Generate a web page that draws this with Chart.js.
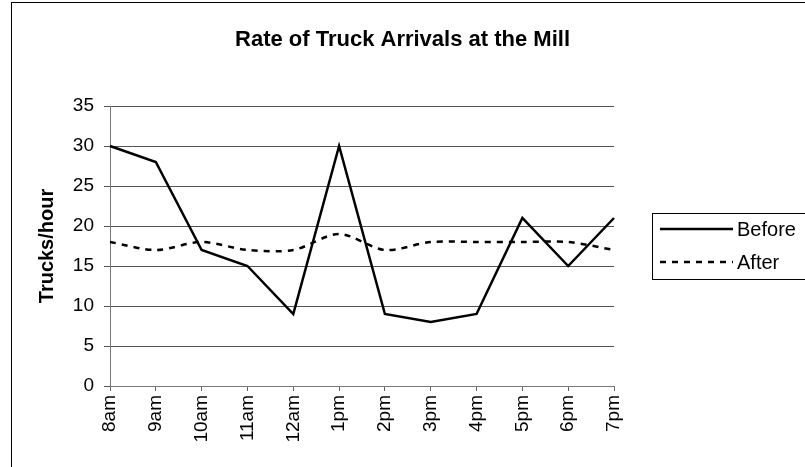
<!DOCTYPE html>
<html>
<head>
<meta charset="utf-8">
<script src="https://cdn.jsdelivr.net/npm/chart.js@4"></script>
<style>
  html, body { margin: 0; padding: 0; background: #fff; overflow: hidden; }
  #wrap { position: relative; width: 805px; height: 467px; }
  #frame { position: absolute; left: 11px; top: 2px; width: 900px; height: 600px; border: 1px solid #000; }
  #chart { position: absolute; left: 0; top: 0; }
</style>
</head>
<body>
<div id="wrap">
  <div id="frame"></div>
  <canvas id="chart" width="805" height="467"></canvas>
</div>
<script>
const hours = ["8am", "9am", "10am", "11am", "12am", "1pm", "2pm", "3pm", "4pm", "5pm", "6pm", "7pm"];
const before = [30, 28, 17, 15, 9, 30, 9, 8, 9, 21, 15, 21];
const after = [18, 17, 18, 17, 17, 19, 17, 18, 18, 18, 18, 17];
const yTicks = [0, 5, 10, 15, 20, 25, 30, 35];

const FONT = "'Liberation Sans', Arial, sans-serif";

// legend box drawn by hand to the right of the plot
const boxLegend = {
    id: "boxLegend",
    afterDraw(chart) {
        const ctx = chart.ctx;
        ctx.save();
        ctx.strokeStyle = "#000";
        ctx.lineWidth = 1;
        ctx.strokeRect(652.5, 213.5, 200, 66);
        chart.data.datasets.forEach((ds, i) => {
            const y = 229 + i * 33;
            ctx.beginPath();
            ctx.strokeStyle = ds.borderColor;
            ctx.lineWidth = ds.borderWidth;
            ctx.setLineDash(ds.borderDash || []);
            ctx.moveTo(660, y);
            ctx.lineTo(733, y);
            ctx.stroke();
            ctx.setLineDash([]);
            ctx.fillStyle = "#000";
            ctx.font = "20px " + FONT;
            ctx.textBaseline = "middle";
            ctx.fillText(ds.label, 737, y + 1);
        });
        ctx.restore();
    }
};

new Chart(document.getElementById("chart"), {
    type: "line",
    data: {
        labels: hours,
        datasets: [
            { label: "Before", data: before, borderColor: "#000", borderWidth: 2.5, pointRadius: 0, tension: 0 },
            { label: "After", data: after, borderColor: "#000", borderWidth: 2.5, borderDash: [6, 6], pointRadius: 0, tension: 0.3 }
        ]
    },
    options: {
        responsive: false,
        animation: false,
        layout: { padding: { left: 0, right: 0, top: 27, bottom: 0 } },
        plugins: {
            legend: { display: false },
            tooltip: { enabled: false },
            title: {
                display: true,
                text: "Rate of Truck Arrivals at the Mill",
                color: "#000",
                font: { family: FONT, size: 22, weight: "bold" },
                padding: { top: 0, bottom: 52.6 }
            }
        },
        scales: {
            x: {
                grid: { drawOnChartArea: false, drawTicks: true, tickLength: 5, color: "#666" },
                border: { color: "#777" },
                ticks: {
                    color: "#000",
                    font: { family: FONT, size: 19 },
                    minRotation: 90,
                    maxRotation: 90,
                    padding: 4,
                    autoSkip: false
                },
                afterFit: s => { s.height = 81; }
            },
            y: {
                min: 0,
                max: 35,
                afterBuildTicks: s => { s.ticks = yTicks.map(v => ({ value: v })); },
                grid: { color: "#555", tickLength: 6 },
                border: { color: "#777" },
                ticks: { color: "#000", font: { family: FONT, size: 19 }, padding: 10 },
                title: {
                    display: true,
                    text: "Trucks/hour",
                    color: "#000",
                    font: { family: FONT, size: 20, weight: "bold" },
                    padding: { top: 35, bottom: 0 }
                },
                afterFit: s => { s.width = 110; }
            },
            // empty right-hand space that holds the legend box
            side: {
                position: "right",
                display: true,
                grid: { display: false },
                border: { display: false },
                ticks: { display: false },
                afterFit: s => { s.width = 191; }
            }
        }
    },
    plugins: [boxLegend]
});
</script>
</body>
</html>
